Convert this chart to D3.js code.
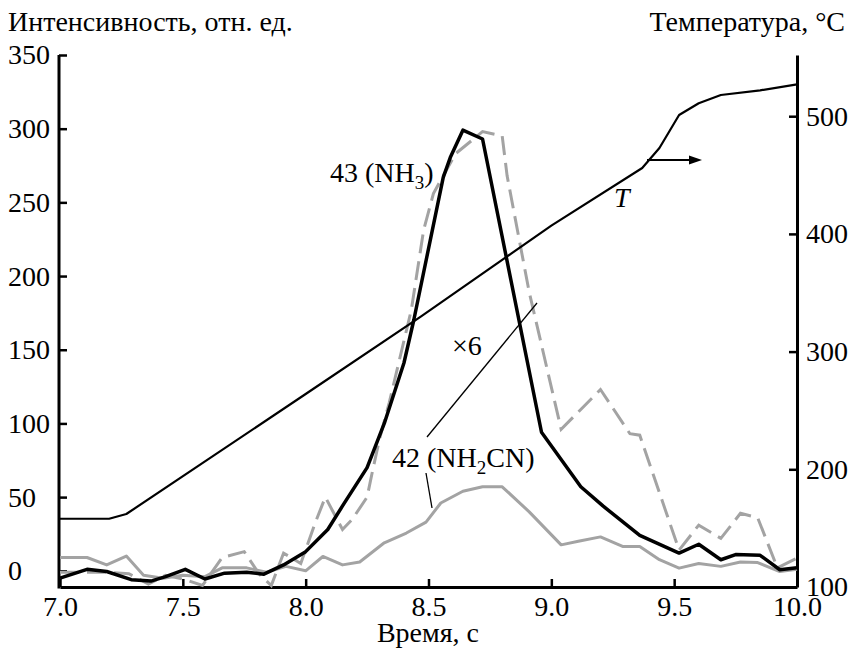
<!DOCTYPE html>
<html>
<head>
<meta charset="utf-8">
<script src="https://cdn.jsdelivr.net/npm/d3@7"></script>
<style>
  body { margin: 0; background: #fff; }
  text { font-family: "Liberation Serif", "Times New Roman", serif; }
</style>
</head>
<body>
<div id="container"></div>
<script>
let w = 848;
let h = 648;

// DATA
// temperature curve, right axis
let timeT = [7.0, 7.2, 7.27, 8.0, 8.47, 9.0, 9.37, 9.44, 9.52, 9.6, 9.69, 9.85, 10.0];
let tempT = [158, 158, 162, 264, 330, 407, 456, 473, 501, 511, 518, 522, 527];

// 43 (NH3), black
let timeNH3 = [7.0, 7.11, 7.19, 7.29, 7.37, 7.43, 7.51, 7.59, 7.67, 7.76, 7.83, 7.91, 8.0, 8.09, 8.15, 8.25, 8.32, 8.4, 8.44, 8.56, 8.59, 8.64, 8.72, 8.96, 9.12, 9.21, 9.36, 9.52, 9.6, 9.69, 9.75, 9.85, 9.93, 10.0];
let nh3 = [-5, 1, -0.5, -6, -7, -4, 1, -5.6, -1.6, -1, -2.3, 4, 13, 28, 44, 70, 100, 141, 170, 267, 281, 299, 293, 94, 57, 44, 24, 12, 18, 7.5, 11, 10.5, 0.7, 2];

// 42 (NH2CN) x6, gray dashed
let timeX6 = [7.0, 7.1, 7.2, 7.28, 7.36, 7.43, 7.51, 7.58, 7.66, 7.75, 7.81, 7.86, 7.91, 7.98, 8.04, 8.08, 8.15, 8.19, 8.25, 8.27, 8.3, 8.34, 8.43, 8.48, 8.52, 8.61, 8.72, 8.8, 8.82, 8.91, 9.04, 9.2, 9.32, 9.36, 9.52, 9.6, 9.69, 9.77, 9.84, 9.92, 10.0];
let nh2cnX6 = [-1, -1, -1, -2, -9, -3, -6, -10, 9, 13, -2, -10, 12, 5, 33, 50, 28, 35, 50, 66, 89, 114, 177, 231, 256, 283, 298, 295, 268, 189, 96, 123, 93, 92, 14, 31, 22, 39, 36, 2, 8.6];

// 42 (NH2CN), gray solid
let timeNH2CN = [7.0, 7.11, 7.19, 7.27, 7.34, 7.42, 7.5, 7.59, 7.66, 7.76, 7.84, 7.92, 8.0, 8.07, 8.15, 8.22, 8.32, 8.41, 8.49, 8.55, 8.64, 8.72, 8.8, 8.91, 9.04, 9.11, 9.2, 9.29, 9.36, 9.44, 9.52, 9.6, 9.69, 9.77, 9.84, 9.93, 10.0];
let nh2cn = [9, 9, 4, 10, -3, -5, -3, -4, 2, 2, -1, 3, 0, 9.7, 4, 6, 19, 25.6, 33, 46, 54, 57, 57, 40, 17.6, 20, 23, 16.5, 16.5, 7.5, 1.8, 5, 3, 6, 5.6, -0.5, 1];

let xTicks = [7.0, 7.5, 8.0, 8.5, 9.0, 9.5, 10.0];
let yLeftTicks = [0, 50, 100, 150, 200, 250, 300, 350];
let yRightTicks = [100, 200, 300, 400, 500];

// SVG
let viz = d3.select("#container").append("svg")
    .attr("width", w)
    .attr("height", h)
    .style("background-color", "white")
;

let plotLeft = 59, plotRight = 797, plotTop = 55, plotBottom = 587;

let x = d3.scaleLinear().domain([7, 10]).range([plotLeft + 1, plotRight]);
let yL = d3.scaleLinear().domain([-11, 350]).range([plotBottom, plotTop]);
let yR = d3.scaleLinear().domain([100, 552]).range([plotBottom, plotTop]);

let fontSize = 28;
let fontFam = '"Liberation Serif", "Times New Roman", serif';

// AXES
let xAxis = d3.axisBottom(x).tickValues(xTicks).tickFormat(d3.format(".1f"))
    .tickSizeInner(-8).tickSizeOuter(0).tickPadding(9);
let gx = viz.append("g").attr("transform", `translate(0,${plotBottom})`).call(xAxis);

let leftAxis = d3.axisLeft(yL).tickValues(yLeftTicks)
    .tickSizeInner(-8).tickSizeOuter(0);
let gl = viz.append("g").attr("transform", `translate(${plotLeft},0)`).call(leftAxis);
gl.selectAll(".tick text").attr("text-anchor", "start").attr("x", 8 - plotLeft);

let rightAxis = d3.axisRight(yR).tickValues(yRightTicks)
    .tickSizeInner(-8).tickSizeOuter(0).tickPadding(9);
let gr = viz.append("g").attr("transform", `translate(${plotRight},0)`).call(rightAxis);

[gx, gl, gr].forEach(g => {
  g.select(".domain").attr("stroke", "black").attr("stroke-width", 3);
  g.selectAll(".tick line").attr("stroke", "black").attr("stroke-width", 2.5);
  g.selectAll(".tick text")
    .attr("fill", "black")
    .style("font-size", fontSize + "px")
    .style("font-family", fontFam);
});
// left axis domain starts at the plot edge
gl.select(".domain").attr("d", `M0,${plotTop}V${plotBottom + 1.5}`);

// AXIS TITLES
viz.append("text").attr("x", 8).attr("y", 31)
    .style("font-size", fontSize + "px").style("font-family", fontFam)
    .text("Интенсивность, отн. ед.");
viz.append("text").attr("x", 845).attr("y", 31).attr("text-anchor", "end")
    .style("font-size", fontSize + "px").style("font-family", fontFam)
    .text("Температура, °C");
viz.append("text").attr("x", 428).attr("y", 642).attr("text-anchor", "middle")
    .style("font-size", fontSize + "px").style("font-family", fontFam)
    .text("Время, с");

// LINES
function makeLine(times, vals, yScale) {
  let pts = times.map((t, i) => [x(t), yScale(vals[i])]);
  return d3.line()(pts);
}

viz.append("path")
    .attr("d", makeLine(timeNH2CN, nh2cn, yL))
    .attr("fill", "none").attr("stroke", "#a3a3a3").attr("stroke-width", 3)
    .attr("stroke-linejoin", "round");

viz.append("path")
    .attr("d", makeLine(timeX6, nh2cnX6, yL))
    .attr("fill", "none").attr("stroke", "#a3a3a3").attr("stroke-width", 3)
    .attr("stroke-dasharray", "19,8");

viz.append("path")
    .attr("d", makeLine(timeT, tempT, yR))
    .attr("fill", "none").attr("stroke", "black").attr("stroke-width", 2.2)
    .attr("stroke-linejoin", "round");

viz.append("path")
    .attr("d", makeLine(timeNH3, nh3, yL))
    .attr("fill", "none").attr("stroke", "black").attr("stroke-width", 3.5)
    .attr("stroke-linejoin", "round");

// ANNOTATIONS
let lbl1 = viz.append("text").attr("x", 330).attr("y", 182)
    .style("font-size", fontSize + "px").style("font-family", fontFam);
lbl1.append("tspan").text("43 (NH");
lbl1.append("tspan").attr("dy", 7).style("font-size", "19px").text("3");
lbl1.append("tspan").attr("dy", -7).text(")");

let lbl2 = viz.append("text").attr("x", 392).attr("y", 467)
    .style("font-size", fontSize + "px").style("font-family", fontFam);
lbl2.append("tspan").text("42 (NH");
lbl2.append("tspan").attr("dy", 7).style("font-size", "19px").text("2");
lbl2.append("tspan").attr("dy", -7).text("CN)");

viz.append("text").attr("x", 452).attr("y", 355)
    .style("font-size", fontSize + "px").style("font-family", fontFam).text("×6");

viz.append("text").attr("x", 614).attr("y", 207)
    .style("font-size", fontSize + "px").style("font-family", fontFam)
    .style("font-style", "italic").text("T");

// leader lines
viz.append("line").attr("x1", 537).attr("y1", 303).attr("x2", 427).attr("y2", 437)
    .attr("stroke", "black").attr("stroke-width", 1.3);
viz.append("line").attr("x1", 426).attr("y1", 473).attr("x2", 432).attr("y2", 508)
    .attr("stroke", "black").attr("stroke-width", 1.3);

// arrow pointing to the right axis
viz.append("line").attr("x1", 647).attr("y1", 160).attr("x2", 692).attr("y2", 160)
    .attr("stroke", "black").attr("stroke-width", 2);
viz.append("path").attr("d", "M702,160 L689,155.5 L689,164.5 Z").attr("fill", "black");
</script>
</body>
</html>
